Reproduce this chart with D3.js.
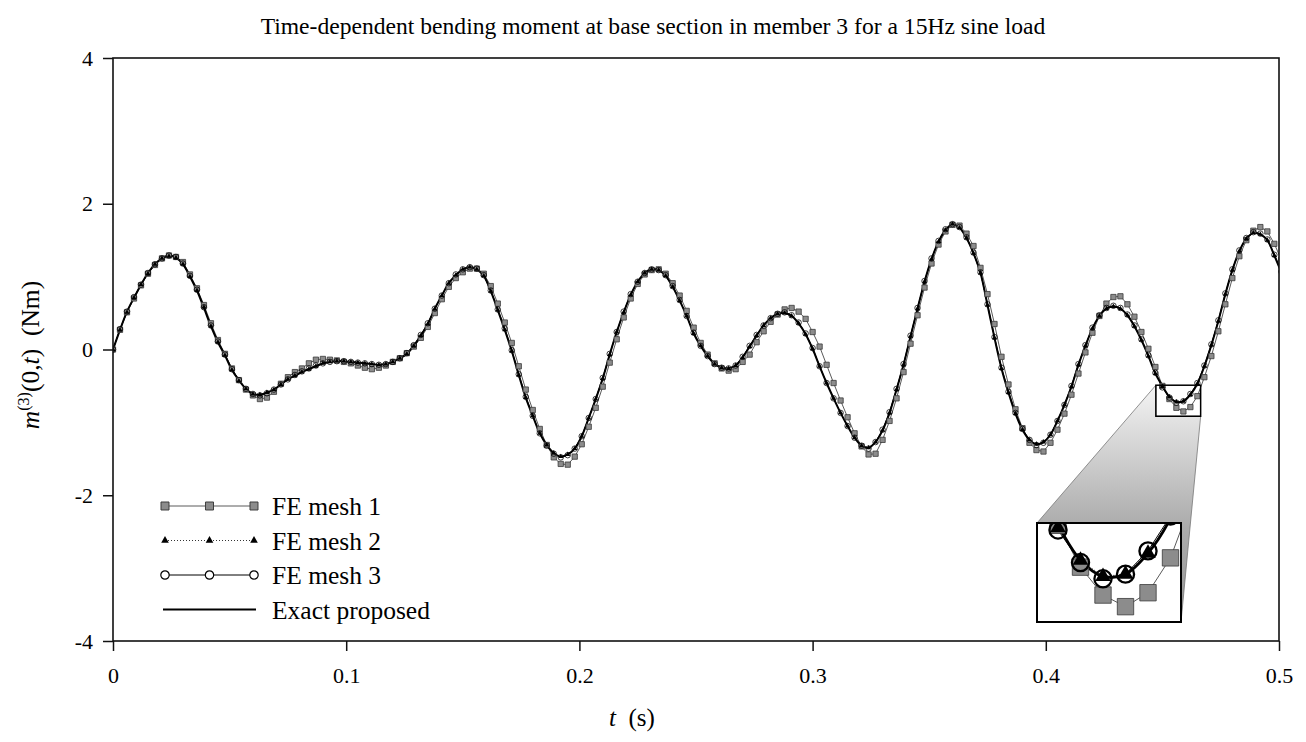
<!DOCTYPE html>
<html>
<head>
<meta charset="utf-8">
<script src="https://cdn.jsdelivr.net/npm/d3@7"></script>
<style>
  body { margin: 0; background: #fff; }
  text { font-family: 'Liberation Serif', 'Times New Roman', serif; fill: #000; }
</style>
</head>
<body>
<svg id="chart" width="1306" height="742"></svg>
<script>
// sampling step of every series (s); sample i sits at t = i * dt
const dt = 0.003;

const exactProposed = [
  0, 0.27, 0.52, 0.71, 0.89, 1.05, 1.17, 1.25, 1.29, 1.26,
  1.17, 1.00, 0.81, 0.57, 0.32, 0.10, -0.08, -0.28, -0.42, -0.54,
  -0.61, -0.62, -0.59, -0.55, -0.48, -0.41, -0.36, -0.31, -0.27, -0.23,
  -0.19, -0.17, -0.16, -0.16, -0.17, -0.18, -0.19, -0.20, -0.21, -0.20,
  -0.17, -0.12, -0.06, 0.05, 0.19, 0.35, 0.56, 0.74, 0.91, 1.02,
  1.10, 1.13, 1.10, 1.01, 0.80, 0.54, 0.27, -0.02, -0.35, -0.66,
  -0.91, -1.15, -1.31, -1.42, -1.47, -1.44, -1.36, -1.19, -0.94, -0.68,
  -0.40, -0.07, 0.24, 0.51, 0.75, 0.93, 1.05, 1.10, 1.09, 1.01,
  0.86, 0.67, 0.46, 0.22, 0.05, -0.09, -0.20, -0.25, -0.26, -0.22,
  -0.11, 0.04, 0.19, 0.33, 0.43, 0.49, 0.50, 0.46, 0.36, 0.21,
  0.01, -0.23, -0.46, -0.67, -0.87, -1.05, -1.21, -1.32, -1.35, -1.27,
  -1.11, -0.87, -0.55, -0.21, 0.18, 0.56, 0.93, 1.24, 1.48, 1.64,
  1.72, 1.67, 1.53, 1.32, 1.05, 0.61, 0.16, -0.26, -0.59, -0.88,
  -1.10, -1.24, -1.30, -1.27, -1.17, -0.98, -0.76, -0.51, -0.21, 0.05,
  0.29, 0.46, 0.56, 0.59, 0.56, 0.47, 0.32, 0.13, -0.09, -0.33,
  -0.50, -0.65, -0.72, -0.71, -0.62, -0.47, -0.23, 0.06, 0.39, 0.76,
  1.09, 1.35, 1.52, 1.60, 1.58, 1.50, 1.29, 1.06
];

const feMesh1 = [
  0, 0.27, 0.51, 0.70, 0.88, 1.04, 1.16, 1.25, 1.29, 1.27,
  1.20, 1.03, 0.84, 0.61, 0.36, 0.13, -0.06, -0.26, -0.42, -0.55,
  -0.63, -0.68, -0.66, -0.58, -0.47, -0.38, -0.31, -0.26, -0.19, -0.14,
  -0.13, -0.14, -0.15, -0.17, -0.19, -0.22, -0.25, -0.27, -0.25, -0.22,
  -0.17, -0.12, -0.05, 0.04, 0.16, 0.31, 0.50, 0.69, 0.86, 0.98,
  1.06, 1.11, 1.11, 1.04, 0.87, 0.63, 0.37, 0.09, -0.23, -0.55,
  -0.83, -1.09, -1.31, -1.48, -1.57, -1.58, -1.47, -1.30, -1.06, -0.80,
  -0.51, -0.18, 0.14, 0.44, 0.70, 0.90, 1.03, 1.09, 1.10, 1.04,
  0.91, 0.74, 0.53, 0.30, 0.09, -0.07, -0.19, -0.26, -0.29, -0.27,
  -0.17, -0.07, 0.10, 0.25, 0.38, 0.48, 0.55, 0.57, 0.52, 0.42,
  0.24, 0.04, -0.21, -0.46, -0.70, -0.93, -1.15, -1.33, -1.44, -1.43,
  -1.24, -0.98, -0.67, -0.31, 0.08, 0.47, 0.85, 1.18, 1.44, 1.62,
  1.71, 1.70, 1.59, 1.42, 1.12, 0.76, 0.35, -0.10, -0.48, -0.82,
  -1.08, -1.28, -1.38, -1.40, -1.28, -1.10, -0.88, -0.62, -0.33, -0.04,
  0.23, 0.46, 0.63, 0.72, 0.73, 0.62, 0.45, 0.24, 0.01, -0.24,
  -0.50, -0.68, -0.80, -0.85, -0.79, -0.64, -0.38, -0.09, 0.25, 0.62,
  0.98, 1.28, 1.50, 1.63, 1.68, 1.62, 1.45, 1.23
];

const feMesh2 = [
  0, 0.27, 0.51, 0.71, 0.89, 1.04, 1.17, 1.25, 1.28, 1.26,
  1.17, 1.00, 0.81, 0.58, 0.32, 0.10, -0.08, -0.28, -0.43, -0.54,
  -0.61, -0.62, -0.59, -0.55, -0.48, -0.41, -0.36, -0.31, -0.27, -0.23,
  -0.19, -0.17, -0.16, -0.16, -0.17, -0.18, -0.19, -0.20, -0.21, -0.20,
  -0.17, -0.12, -0.06, 0.05, 0.19, 0.35, 0.56, 0.74, 0.91, 1.02,
  1.10, 1.13, 1.10, 1.01, 0.80, 0.54, 0.27, -0.02, -0.35, -0.66,
  -0.91, -1.15, -1.31, -1.42, -1.47, -1.44, -1.36, -1.19, -0.94, -0.68,
  -0.40, -0.07, 0.24, 0.51, 0.75, 0.93, 1.05, 1.10, 1.09, 1.01,
  0.86, 0.67, 0.46, 0.22, 0.05, -0.09, -0.20, -0.25, -0.26, -0.22,
  -0.11, 0.04, 0.19, 0.33, 0.43, 0.49, 0.50, 0.46, 0.36, 0.21,
  0.01, -0.23, -0.46, -0.67, -0.87, -1.05, -1.21, -1.32, -1.35, -1.27,
  -1.11, -0.87, -0.55, -0.21, 0.18, 0.56, 0.93, 1.24, 1.48, 1.64,
  1.72, 1.67, 1.53, 1.32, 1.05, 0.61, 0.16, -0.26, -0.59, -0.88,
  -1.10, -1.24, -1.30, -1.27, -1.17, -0.98, -0.76, -0.51, -0.21, 0.05,
  0.29, 0.46, 0.56, 0.59, 0.56, 0.47, 0.32, 0.13, -0.09, -0.33,
  -0.51, -0.65, -0.72, -0.71, -0.62, -0.47, -0.23, 0.06, 0.39, 0.76,
  1.09, 1.35, 1.52, 1.60, 1.58, 1.50, 1.29, 1.06
];

const feMesh3 = [
  0, 0.28, 0.52, 0.72, 0.89, 1.05, 1.17, 1.25, 1.29, 1.27,
  1.18, 1.01, 0.82, 0.58, 0.33, 0.11, -0.07, -0.27, -0.42, -0.54,
  -0.61, -0.63, -0.60, -0.55, -0.48, -0.41, -0.35, -0.30, -0.26, -0.22,
  -0.19, -0.17, -0.16, -0.16, -0.17, -0.18, -0.19, -0.20, -0.21, -0.20,
  -0.17, -0.12, -0.05, 0.06, 0.20, 0.36, 0.56, 0.74, 0.91, 1.03,
  1.10, 1.13, 1.11, 1.02, 0.81, 0.55, 0.29, -0.01, -0.34, -0.65,
  -0.91, -1.15, -1.32, -1.43, -1.48, -1.45, -1.36, -1.19, -0.94, -0.68,
  -0.39, -0.06, 0.24, 0.52, 0.76, 0.93, 1.05, 1.10, 1.09, 1.02,
  0.87, 0.68, 0.46, 0.23, 0.05, -0.09, -0.20, -0.25, -0.26, -0.22,
  -0.10, 0.05, 0.20, 0.33, 0.43, 0.49, 0.51, 0.47, 0.37, 0.22,
  0.02, -0.23, -0.46, -0.67, -0.87, -1.05, -1.21, -1.32, -1.36, -1.27,
  -1.10, -0.86, -0.54, -0.20, 0.19, 0.57, 0.94, 1.25, 1.49, 1.65,
  1.72, 1.68, 1.54, 1.33, 1.06, 0.62, 0.17, -0.25, -0.58, -0.87,
  -1.09, -1.24, -1.31, -1.28, -1.17, -0.98, -0.76, -0.50, -0.20, 0.06,
  0.30, 0.47, 0.57, 0.60, 0.57, 0.48, 0.33, 0.14, -0.08, -0.32,
  -0.52, -0.66, -0.73, -0.71, -0.61, -0.46, -0.22, 0.07, 0.40, 0.77,
  1.10, 1.36, 1.53, 1.61, 1.59, 1.51, 1.30, 1.07
];

const xTicks = [0, 0.1, 0.2, 0.3, 0.4, 0.5];
const yTicks = [-4, -2, 0, 2, 4];
const seriesNames = ['FE mesh 1', 'FE mesh 2', 'FE mesh 3', 'Exact proposed'];
// zoomed window shown in the inset: time range and moment range
const zoomTime = [0.4472, 0.4664];
const zoomMoment = [-0.49, -0.916];

const W = 1306, H = 742;
const margin = {top: 58, right: 27, bottom: 101, left: 113};
const svg = d3.select('#chart');

const x = d3.scaleLinear().domain([0, 0.5]).range([margin.left, W - margin.right]);
const y = d3.scaleLinear().domain([-4, 4]).range([H - margin.bottom, margin.top]);

const toPoints = vals => vals.map((v, i) => ({t: i * dt, v: v}));

const series = [
  {name: seriesNames[0], data: toPoints(feMesh1), line: '#5a5a5a', lw: 1, dash: null,
   sym: d3.symbolSquare, fill: '#8c8c8c', stroke: '#3a3a3a', size: 28, sw: 0.8},
  {name: seriesNames[1], data: toPoints(feMesh2), line: '#000', lw: 0.8, dash: '1,2',
   sym: d3.symbolTriangle, fill: '#000', stroke: 'none', size: 11, sw: 0},
  {name: seriesNames[2], data: toPoints(feMesh3), line: '#000', lw: 1, dash: null,
   sym: d3.symbolCircle, fill: 'none', stroke: '#000', size: 24, sw: 1},
  {name: seriesNames[3], data: toPoints(exactProposed), line: '#000', lw: 2, dash: null,
   sym: null}
];

const defs = svg.append('defs');
defs.append('clipPath').attr('id', 'plotClip').append('rect')
  .attr('x', margin.left).attr('y', margin.top)
  .attr('width', W - margin.left - margin.right).attr('height', H - margin.top - margin.bottom);

// inset box on the page
const inset = {x: 1037, y: 523, w: 144, h: 99};
defs.append('clipPath').attr('id', 'insetClip').append('rect')
  .attr('x', inset.x).attr('y', inset.y).attr('width', inset.w).attr('height', inset.h);

const grad = defs.append('linearGradient').attr('id', 'zoomGrad')
  .attr('gradientUnits', 'userSpaceOnUse')
  .attr('x1', 0).attr('y1', y(zoomMoment[0])).attr('x2', 0).attr('y2', inset.y + inset.h);
grad.append('stop').attr('offset', '0%').attr('stop-color', '#f4f4f4');
grad.append('stop').attr('offset', '60%').attr('stop-color', '#ababab');
grad.append('stop').attr('offset', '100%').attr('stop-color', '#969696');

function drawSeries(g, xs, ys, k, lwk) {
  series.forEach(s => {
    const line = d3.line().x(d => xs(d.t)).y(d => ys(d.v));
    if (s.sym === null) line.curve(d3.curveCatmullRom);
    g.append('path')
      .attr('d', line(s.data))
      .attr('fill', 'none')
      .attr('stroke', s.line)
      .attr('stroke-width', s.lw * (s.sym === null ? lwk : 1))
      .attr('stroke-dasharray', s.dash);
  });
  // markers on top: squares, then circles, then triangles
  [0, 2, 1].forEach(idx => {
    const s = series[idx];
    g.append('g').selectAll('path')
      .data(s.data).enter()
      .append('path')
      .attr('transform', d => 'translate(' + xs(d.t) + ',' + ys(d.v) + ')')
      .attr('d', d3.symbol().type(s.sym).size(s.size * k * k))
      .attr('fill', s.fill)
      .attr('stroke', s.stroke)
      .attr('stroke-width', s.sw * (idx === 2 ? k * 0.75 : 1));
  });
}

// axes
const xAxis = svg.append('g')
  .attr('transform', 'translate(0,' + (H - margin.bottom) + ')')
  .call(d3.axisBottom(x).tickValues(xTicks).tickSize(10).tickPadding(16)
    .tickFormat(d => d === 0 ? '0' : d3.format('.1f')(d)));
const yAxis = svg.append('g')
  .attr('transform', 'translate(' + margin.left + ',0)')
  .call(d3.axisLeft(y).tickValues(yTicks).tickSize(10).tickPadding(10)
    .tickFormat(d => String(d)));
[xAxis, yAxis].forEach(a => {
  a.select('.domain').remove();
  a.selectAll('line').attr('stroke', '#111').attr('stroke-width', 1.5);
  a.selectAll('text').attr('font-size', 22).attr('font-family', 'Liberation Serif');
});

// series in the main plot
const plot = svg.append('g').attr('clip-path', 'url(#plotClip)');
drawSeries(plot, x, y, 1, 1);

// frame
svg.append('rect')
  .attr('x', margin.left).attr('y', margin.top)
  .attr('width', W - margin.left - margin.right).attr('height', H - margin.top - margin.bottom)
  .attr('fill', 'none').attr('stroke', '#111').attr('stroke-width', 1.6);

// zoom callout
const zx0 = x(zoomTime[0]), zx1 = x(zoomTime[1]);
const zy0 = y(zoomMoment[0]), zy1 = y(zoomMoment[1]);
svg.append('path')
  .attr('d', 'M' + zx0 + ',' + zy0 + 'L' + inset.x + ',' + inset.y +
    'L' + (inset.x + inset.w) + ',' + (inset.y + inset.h) +
    'L' + zx1 + ',' + zy1 + 'L' + zx0 + ',' + zy1 + 'Z')
  .attr('fill', 'url(#zoomGrad)').attr('stroke', '#777').attr('stroke-width', 0.8);
svg.append('rect')
  .attr('x', zx0).attr('y', zy0).attr('width', zx1 - zx0).attr('height', zy1 - zy0)
  .attr('fill', 'none').attr('stroke', '#000').attr('stroke-width', 1.5);

svg.append('rect')
  .attr('x', inset.x).attr('y', inset.y).attr('width', inset.w).attr('height', inset.h)
  .attr('fill', '#fff');
const xi = d3.scaleLinear().domain(zoomTime).range([inset.x, inset.x + inset.w]);
const yi = d3.scaleLinear().domain(zoomMoment).range([inset.y, inset.y + inset.h]);
const insetG = svg.append('g').attr('clip-path', 'url(#insetClip)');
drawSeries(insetG, xi, yi, 3.1, 1.4);
svg.append('rect')
  .attr('x', inset.x).attr('y', inset.y).attr('width', inset.w).attr('height', inset.h)
  .attr('fill', 'none').attr('stroke', '#000').attr('stroke-width', 2);

// legend
const legend = svg.append('g');
const lx0 = 165, lx1 = 254, ly0 = 506, lstep = 34.5;
series.forEach((s, i) => {
  const ly = ly0 + i * lstep;
  legend.append('line')
    .attr('x1', s.sym ? lx0 : 163).attr('x2', s.sym ? lx1 : 256)
    .attr('y1', ly).attr('y2', ly)
    .attr('stroke', s.line).attr('stroke-width', s.sym ? s.lw : 2)
    .attr('stroke-dasharray', s.dash);
  if (s.sym) {
    [lx0, (lx0 + lx1) / 2, lx1].forEach(px => {
      legend.append('path')
        .attr('transform', 'translate(' + px + ',' + ly + ')')
        .attr('d', d3.symbol().type(s.sym).size(s.size * 2.3))
        .attr('fill', s.sym === d3.symbolCircle ? '#fff' : s.fill)
        .attr('stroke', s.stroke)
        .attr('stroke-width', s.sw * 1.2);
    });
  }
  legend.append('text')
    .attr('x', 272).attr('y', ly + 9)
    .attr('font-size', 25.5)
    .text(s.name);
});

// title and axis labels
svg.append('text')
  .attr('x', W / 2).attr('y', 34)
  .attr('text-anchor', 'middle')
  .attr('font-size', 23.6)
  .text('Time-dependent bending moment at base section in member 3 for a 15Hz sine load');

const xl = svg.append('text')
  .attr('x', 632).attr('y', 726)
  .attr('text-anchor', 'middle')
  .attr('font-size', 25);
xl.append('tspan').attr('font-style', 'italic').text('t');
xl.append('tspan').text('\u00a0\u00a0(s)');

const yl = svg.append('text')
  .attr('transform', 'translate(39,355) rotate(-90)')
  .attr('text-anchor', 'middle')
  .attr('font-size', 25.5);
yl.append('tspan').attr('font-style', 'italic').text('m');
yl.append('tspan').attr('font-size', 16).attr('dy', -10).text('(3)');
yl.append('tspan').attr('dy', 10).text('(0,');
yl.append('tspan').attr('font-style', 'italic').text('t');
yl.append('tspan').text(')\u00a0\u00a0(Nm)');
</script>
</body>
</html>
